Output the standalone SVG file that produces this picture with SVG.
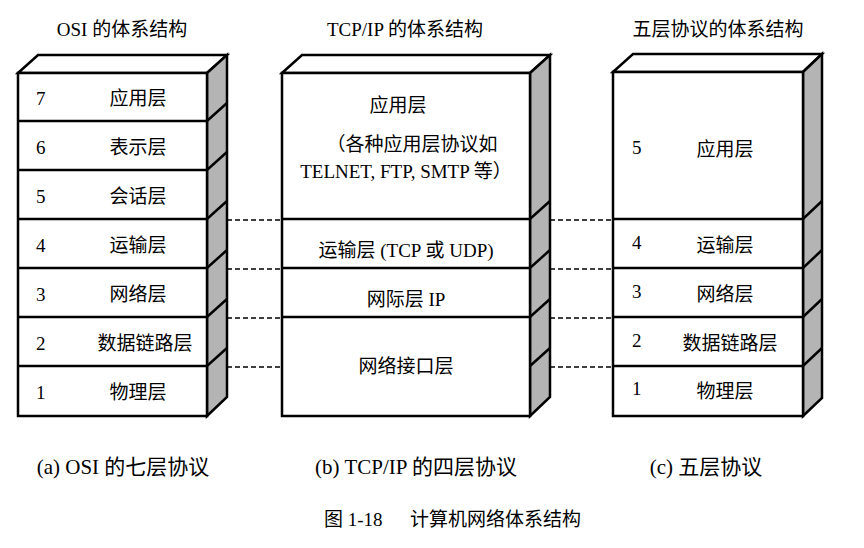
<svg xmlns="http://www.w3.org/2000/svg" width="864" height="548" viewBox="0 0 864 548">
<style>
.f{fill:#fff;stroke:#000;stroke-width:2.5}
.s{fill:#b4b4b4;stroke:#000;stroke-width:2.5}
.l{stroke:#000;stroke-width:2.5;fill:none}
.d{stroke:#000;stroke-width:1.3;stroke-dasharray:5,3;fill:none}
text{font-family:"Liberation Serif","Noto Sans CJK SC",serif;font-size:19px;fill:#000}
.c{text-anchor:middle}
.t{font-size:19px}
.cap{font-size:21px}
</style>
<rect width="864" height="548" fill="#fff"/>
<g id="labels">
<text class="c t" x="122" y="36">OSI 的体系结构</text>
<text class="c t" x="405" y="36">TCP/IP 的体系结构</text>
<text class="c t" x="718" y="36">五层协议的体系结构</text>
<text class="c cap" x="123" y="474">(a) OSI 的七层协议</text>
<text class="c cap" x="416" y="474">(b) TCP/IP 的四层协议</text>
<text class="c cap" x="706" y="474">(c) 五层协议</text>
<text class="t" x="324" y="526">图 1-18</text>
<text class="t" x="410" y="526">计算机网络体系结构</text>
</g>
<g id="osi">
<polygon class="f" points="18,73 38,55 227,55 207,73"/>
<polygon class="s" points="207,73 227,55 227,397 207,416"/>
<rect class="f" x="18" y="73" width="189" height="343"/>
<path class="l" d="M18,121H207L227,103M18,170H207L227,152M18,219H207L227,201M18,268H207L227,250M18,317H207L227,299M18,366H207L227,348"/>
<text x="36" y="105">7</text><text class="c" x="138" y="105">应用层</text>
<text x="36" y="154">6</text><text class="c" x="138" y="154">表示层</text>
<text x="36" y="203">5</text><text class="c" x="138" y="203">会话层</text>
<text x="36" y="252">4</text><text class="c" x="138" y="252">运输层</text>
<text x="36" y="301">3</text><text class="c" x="138" y="301">网络层</text>
<text x="36" y="350">2</text><text class="c" x="145" y="350">数据链路层</text>
<text x="36" y="399">1</text><text class="c" x="138" y="399">物理层</text>
</g>
<g id="tcpip">
<polygon class="f" points="282,73 302,55 550,55 530,73"/>
<polygon class="s" points="530,73 550,55 550,397 530,416"/>
<rect class="f" x="282" y="73" width="248" height="343"/>
<path class="l" d="M282,219H530L550,201M282,268H530L550,250M282,317H530L550,299M530,366L550,348"/>
<text class="c" x="398" y="112">应用层</text>
<text class="c" x="412" y="151">（各种应用层协议如</text>
<text class="c" x="406" y="178">TELNET, FTP, SMTP 等）</text>
<text class="c" x="406" y="257">运输层 (TCP 或 UDP)</text>
<text class="c" x="406" y="306">网际层 IP</text>
<text class="c" x="406" y="373">网络接口层</text>
</g>
<g id="five">
<polygon class="f" points="613,72 633,54 822,54 803,72"/>
<polygon class="s" points="803,72 822,54 822,398 803,416"/>
<rect class="f" x="613" y="72" width="190" height="344"/>
<path class="l" d="M613,219H803L822,201M613,268H803L822,250M613,317H803L822,299M613,366H803L822,348"/>
<text x="632" y="154">5</text><text class="c" x="725" y="156">应用层</text>
<text x="632" y="249">4</text><text class="c" x="725" y="252">运输层</text>
<text x="632" y="298">3</text><text class="c" x="725" y="301">网络层</text>
<text x="632" y="347">2</text><text class="c" x="730" y="350">数据链路层</text>
<text x="632" y="395">1</text><text class="c" x="725" y="398">物理层</text>
</g>
<g id="connectors">
<path class="d" d="M227,220H282M227,269H282M227,318H282M227,367H282M550,220H613M550,269H613M550,318H613M550,367H613"/>
</g>
</svg>
